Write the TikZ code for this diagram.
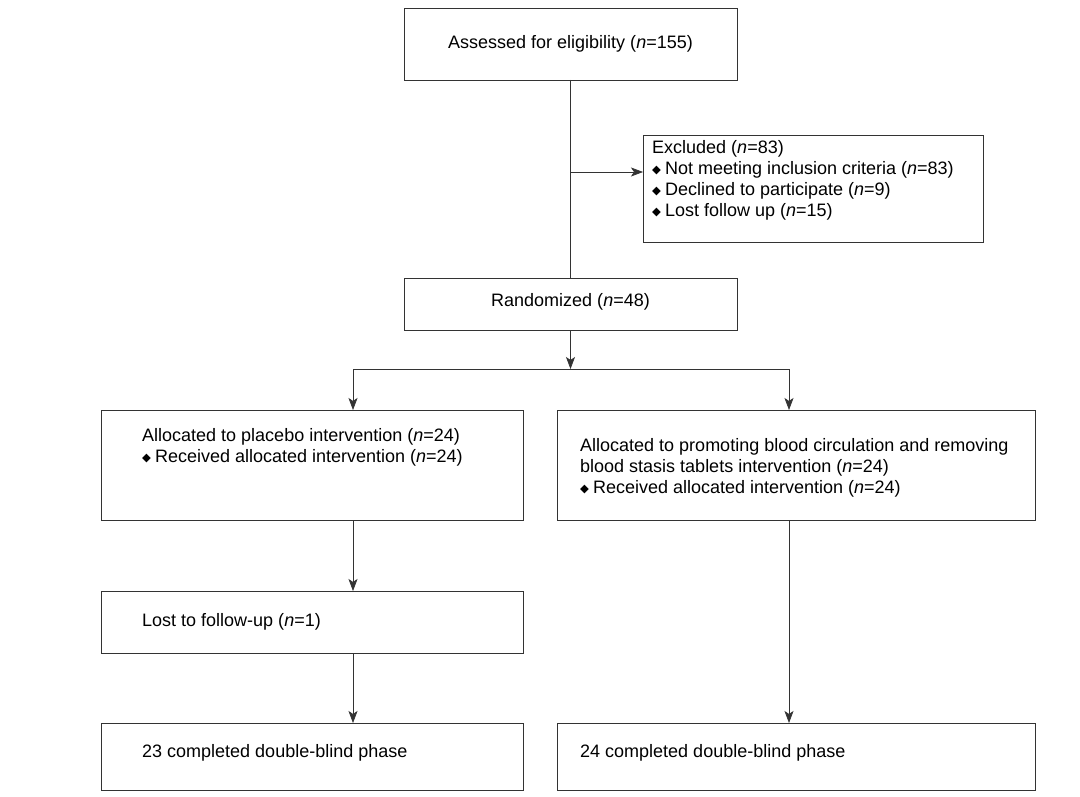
\documentclass[tikz,border=0pt]{standalone}
\usepackage{fontspec}
\setmainfont{Liberation Sans}
\newfontfamily\dejavu{DejaVu Sans}
\usetikzlibrary{arrows.meta}
\newcommand{\bul}{{\dejavu\fontsize{11.5}{11.5}\selectfont\raisebox{1pt}{◆}}\hspace{4pt}}
\begin{document}
\begin{tikzpicture}[x=1pt,y=-1pt,
  box/.style={draw=black!80, line width=0.7pt, anchor=north west, inner sep=0pt, outer sep=0pt},
  txt/.style={inner sep=0pt, font=\fontsize{18}{21}\selectfont, align=left},
  ln/.style={draw=black!80, line width=0.7pt},
  arr/.style={ln, -{Stealth[length=12pt,width=9pt,inset=3pt]}}]
\useasboundingbox[fill=white] (0,0) rectangle (1080,797);
% boxes
\node[box, minimum width=333pt, minimum height=72pt] (top) at (404,8) {};
\node[box, minimum width=340pt, minimum height=107pt] (excl) at (643,135) {};
\node[box, minimum width=333pt, minimum height=52pt] (rand) at (404,278) {};
\node[box, minimum width=422pt, minimum height=110pt] (alloc1) at (101,410) {};
\node[box, minimum width=478pt, minimum height=110pt] (alloc2) at (557,410) {};
\node[box, minimum width=422pt, minimum height=62pt] (lost) at (101,591) {};
\node[box, minimum width=422pt, minimum height=67pt] (done1) at (101,723) {};
\node[box, minimum width=478pt, minimum height=67pt] (done2) at (557,723) {};
% texts
\node[txt] (ttop) at (top.center) {Assessed for eligibility (\textit{n}=155)};
\node[txt, anchor=west] (texcl) at (652,180.5) {Excluded (\textit{n}=83)\\
\bul Not meeting inclusion criteria (\textit{n}=83)\\
\bul Declined to participate (\textit{n}=9)\\
\bul Lost follow up (\textit{n}=15)};
\node[txt] (trand) at (570.5,302) {Randomized (\textit{n}=48)};
\node[txt, anchor=west] (talloc1) at (142,447.5) {Allocated to placebo intervention (\textit{n}=24)\\
\bul Received allocated intervention (\textit{n}=24)};
\node[txt, anchor=west] (talloc2) at (580,468) {Allocated to promoting blood circulation and removing\\
blood stasis tablets intervention (\textit{n}=24)\\
\bul Received allocated intervention (\textit{n}=24)};
\node[txt, anchor=west] (tlost) at (142,622) {Lost to follow-up (\textit{n}=1)};
\node[txt, anchor=west] (tdone1) at (142,753) {23 completed double-blind phase};
\node[txt, anchor=west] (tdone2) at (580,753) {24 completed double-blind phase};
% connectors
\coordinate (j1) at (570.5,172);
\coordinate (split) at (570.5,369);
\coordinate (hl) at (353,369);
\coordinate (hr) at (789,369);
\draw[ln] (top.south) -- (rand.north);
\draw[arr] (j1) -- (excl.west |- j1);
\draw[arr] (rand.south) -- (split);
\draw[ln] (hl) -- (hr);
\draw[arr] (hl) -- (hl |- alloc1.north);
\draw[arr] (hr) -- (hr |- alloc2.north);
\draw[arr] (hl |- alloc1.south) -- (hl |- lost.north);
\draw[arr] (hl |- lost.south) -- (hl |- done1.north);
\draw[arr] (hr |- alloc2.south) -- (hr |- done2.north);
\end{tikzpicture}
\end{document}
